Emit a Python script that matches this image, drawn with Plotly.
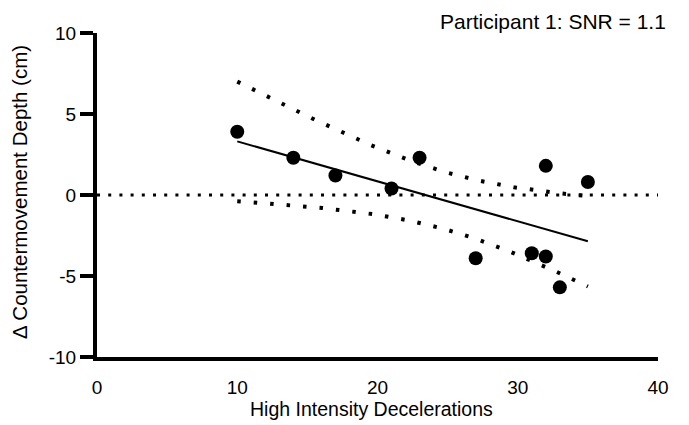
import numpy as np
import plotly.graph_objects as go

# Data
decelerations = [10, 14, 17, 21, 23, 27, 31, 32, 32, 33, 35]
delta_cmj_depth = [3.9, 2.3, 1.2, 0.4, 2.3, -3.9, -3.6, 1.8, -3.8, -5.7, 0.8]

x_ticks = [0, 10, 20, 30, 40]
x_tick_text = ["0", "10", "20", "30", "40"]
y_ticks = [-10, -5, 0, 5, 10]
y_tick_text = ["-10", "-5", "0", "5", "10"]

title_text = "Participant 1: SNR = 1.1"
x_title = "High Intensity Decelerations"
y_title = "\u0394 Countermovement Depth (cm)"

# Linear regression with 95% confidence band of the mean
x = np.array(decelerations, dtype=float)
y = np.array(delta_cmj_depth, dtype=float)
n = len(x)
slope, intercept = np.polyfit(x, y, 1)
resid = y - (slope * x + intercept)
s = np.sqrt(np.sum(resid ** 2) / (n - 2))
sxx = np.sum((x - x.mean()) ** 2)
t_crit = 2.262157  # t(0.975, df=9)
xf = np.linspace(x.min(), x.max(), 200)
yf = slope * xf + intercept
half = t_crit * s * np.sqrt(1.0 / n + (xf - x.mean()) ** 2 / sxx)
upper = yf + half
lower = yf - half

font_family = "Liberation Sans, Arial, sans-serif"

fig = go.Figure()
band_line = dict(color="black", width=4, dash="3.5px,13px")
fig.add_trace(go.Scatter(x=xf, y=upper, mode="lines", line=band_line, hoverinfo="skip"))
fig.add_trace(go.Scatter(x=xf, y=lower, mode="lines", line=band_line, hoverinfo="skip"))
fig.add_trace(go.Scatter(x=[xf[0], xf[-1]], y=[yf[0], yf[-1]], mode="lines",
                         line=dict(color="black", width=2)))
fig.add_trace(go.Scatter(x=decelerations, y=delta_cmj_depth, mode="markers",
                         marker=dict(color="black", size=14, line=dict(width=0))))

fig.add_hline(y=0, line=dict(color="black", width=3, dash="3px,8.2px"), layer="below")

fig.update_layout(
    width=681, height=417,
    margin=dict(l=89, r=31, t=25, b=68),
    paper_bgcolor="white", plot_bgcolor="white",
    showlegend=False,
    font=dict(family=font_family, color="black", size=19),
    xaxis=dict(
        range=[0, 40], tickvals=x_ticks, ticktext=x_tick_text, automargin=False,
        showgrid=False, zeroline=False, showline=True, linecolor="black", linewidth=4,
        ticks="outside", ticklen=10, tickcolor="rgba(0,0,0,0)",
        tickfont=dict(size=19, family=font_family),
    ),
    yaxis=dict(
        range=[-10, 10], tickvals=y_ticks, ticktext=y_tick_text, automargin=False,
        showgrid=False, zeroline=False, showline=True, linecolor="black", linewidth=4,
        ticks="outside", ticklen=13, tickwidth=4, tickcolor="black",
        tickfont=dict(size=19, family=font_family),
    ),
    annotations=[
        dict(text=title_text, xref="paper", yref="paper", x=1.018, y=1.036,
             xanchor="right", yanchor="middle", showarrow=False,
             font=dict(size=21, family=font_family, color="black")),
        dict(text=x_title, xref="paper", yref="paper", x=0.489, y=-0.162,
             xanchor="center", yanchor="middle", showarrow=False,
             font=dict(size=19.5, family=font_family, color="black")),
        dict(text=y_title, xref="paper", yref="paper", x=-0.137, y=0.51,
             xanchor="center", yanchor="middle", showarrow=False, textangle=-90,
             font=dict(size=20.5, family=font_family, color="black")),
    ],
)

fig.write_html("out.html")
